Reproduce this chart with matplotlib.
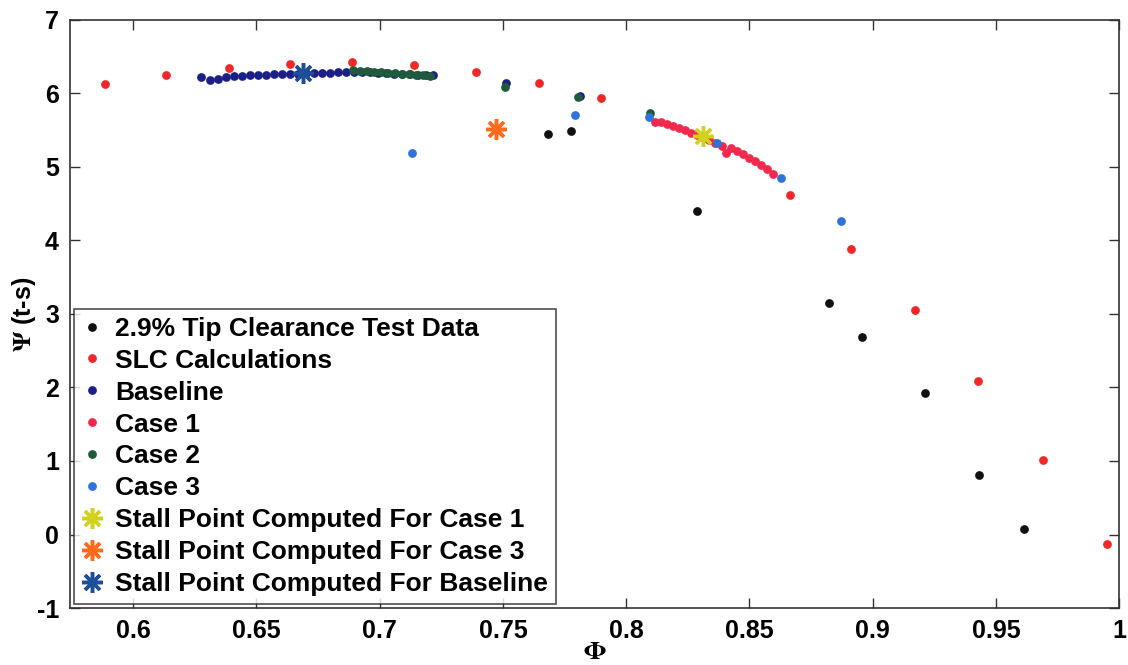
import numpy as np
import matplotlib
matplotlib.use("Agg")
import matplotlib.pyplot as plt
from matplotlib.ticker import FormatStrFormatter

plt.rcParams["font.family"] = ["Liberation Sans", "DejaVu Sans"]
plt.rcParams["font.weight"] = "bold"
plt.rcParams["axes.labelweight"] = "bold"
plt.rcParams["axes.unicode_minus"] = False
plt.rcParams["mathtext.fontset"] = "stix"

# 2.9% tip clearance test data
test_phi = [0.7684, 0.7778, 0.8289, 0.8825, 0.8959, 0.9214, 0.9433, 0.9616]
test_psi = [5.449, 5.490, 4.401, 3.150, 2.687, 1.925, 0.809, 0.075]

# SLC calculations
slc_phi = [0.5886, 0.6134, 0.6390, 0.6637, 0.6889, 0.7140, 0.7392, 0.7648, 0.7899,
           0.8666, 0.8914, 0.9174, 0.9429, 0.9693, 0.9949]
slc_psi = [6.129, 6.252, 6.347, 6.401, 6.429, 6.388, 6.293, 6.143, 5.939,
           4.619, 3.884, 3.054, 2.088, 1.014, -0.129]

# Baseline
base_phi = [0.6276, 0.6313, 0.6345, 0.6377, 0.6410, 0.6442, 0.6475, 0.6507, 0.6540, 0.6572,
            0.6605, 0.6637, 0.6670, 0.6702, 0.6735, 0.6767, 0.6800, 0.6832, 0.6864, 0.6897,
            0.6929, 0.6962, 0.6994, 0.7027, 0.7059, 0.7092, 0.7124, 0.7157, 0.7189, 0.7218,
            0.7514, 0.7811]
base_psi = [6.220, 6.184, 6.193, 6.224, 6.231, 6.238, 6.245, 6.252, 6.254, 6.259,
            6.261, 6.265, 6.268, 6.272, 6.276, 6.279, 6.282, 6.286, 6.288, 6.293,
            6.288, 6.286, 6.279, 6.275, 6.269, 6.265, 6.259, 6.252, 6.248, 6.245,
            6.147, 5.970]

# Case 1
c1_phi = [0.8119, 0.8143, 0.8167, 0.8192, 0.8216, 0.8240, 0.8265, 0.8289, 0.8314, 0.8338,
          0.8362, 0.8387, 0.8407, 0.8427, 0.8451, 0.8476, 0.8500, 0.8524, 0.8549, 0.8573,
          0.8597]
c1_psi = [5.608, 5.612, 5.585, 5.562, 5.535, 5.503, 5.467, 5.431, 5.395, 5.361,
          5.322, 5.286, 5.195, 5.254, 5.218, 5.171, 5.122, 5.078, 5.027, 4.976,
          4.909]

# Case 2
c2_phi = [0.6893, 0.6921, 0.6950, 0.6978, 0.7006, 0.7035, 0.7063, 0.7092, 0.7120, 0.7149,
          0.7177, 0.7205, 0.7507, 0.7805, 0.8098]
c2_psi = [6.320, 6.306, 6.299, 6.293, 6.286, 6.279, 6.272, 6.265, 6.259, 6.252,
          6.245, 6.238, 6.084, 5.948, 5.731]

# Case 3
c3_phi = [0.7132, 0.7791, 0.8091, 0.8369, 0.8629, 0.8873]
c3_psi = [5.190, 5.707, 5.676, 5.331, 4.846, 4.265]

# stall points
stall1 = (0.8312, 5.426)
stall3 = (0.7473, 5.517)
stall_base = (0.6691, 6.275)

fig = plt.figure(figsize=(11.28, 6.65), dpi=100)
ax = fig.add_axes([0.0621, 0.0857, 0.930, 0.8843])

dot = dict(linestyle="none", marker="o", markersize=6.3, markeredgewidth=0)
ax.plot(test_phi, test_psi, color="#111111", label="2.9% Tip Clearance Test Data", **dot)
ax.plot(slc_phi, slc_psi, color="#f02828", label="SLC Calculations", **dot)
ax.plot(base_phi, base_psi, color="#1c1f86", label="Baseline", **dot)
ax.plot(c1_phi, c1_psi, color="#f2284c", label="Case 1", **dot)
ax.plot(c2_phi, c2_psi, color="#1f5a3c", label="Case 2", **dot)
ax.plot(c3_phi, c3_psi, color="#2f72dc", label="Case 3", **dot)

star = dict(linestyle="none", marker=(8, 2, 0), markersize=15, markeredgewidth=2.5)
ax.plot(*stall1, color="#d2d21e", label="Stall Point Computed For Case 1", **star)
ax.plot(*stall3, color="#ff6a1c", label="Stall Point Computed For Case 3", **star)
ax.plot(*stall_base, color="#1f4e98", label="Stall Point Computed For Baseline", **star)

ax.set_xlim(0.5744, 1.0)
ax.set_ylim(-1, 7)
ax.set_xticks(np.arange(0.6, 1.001, 0.05))
ax.set_yticks(range(-1, 8))
ax.xaxis.set_major_formatter(FormatStrFormatter("%g"))
ax.tick_params(direction="in", length=7, width=1, top=True, right=True,
               labelsize=18, pad=8, color="#333333")
for s in ax.spines.values():
    s.set_color("#333333")
    s.set_linewidth(1.2)

ax.set_xlabel(r"$\mathbf{\Phi}$", fontsize=19)
ax.xaxis.set_label_coords(0.5, -0.055)
ax.set_ylabel(r"$\mathbf{\Psi}$ (t-s)", fontsize=18, fontweight="bold")
ax.yaxis.set_label_coords(-0.031, 0.5)

leg = ax.legend(loc="lower left", bbox_to_anchor=(0, 0), borderaxespad=0.15,
                fontsize=19, frameon=True, fancybox=False, edgecolor="#222222",
                handlelength=0.8, handletextpad=0.45, labelspacing=0.3,
                borderpad=0.3, numpoints=1)
leg.get_frame().set_linewidth(1.2)

plt.savefig("out.png", dpi=100)
